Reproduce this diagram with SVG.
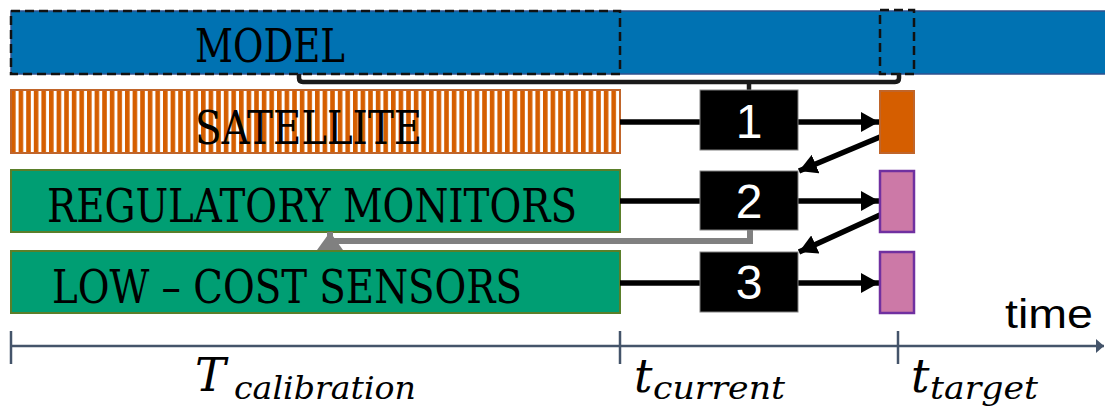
<svg xmlns="http://www.w3.org/2000/svg" width="1105" height="408" viewBox="0 0 1105 408">
  <style>
    .lbl { font-family: "DejaVu Serif", "Liberation Serif", serif; font-stretch: condensed; font-size: 46px; fill: #000; }
    .num { font-family: "Liberation Sans", Arial, sans-serif; font-size: 48px; fill: #fff; text-anchor: middle; }
    .math { font-family: "DejaVu Serif", "Liberation Serif", serif; font-style: italic; fill: #000; }
    .proc { fill: #000; stroke: #808080; stroke-width: 1; }
    .conn { stroke: #000; stroke-width: 5.5; fill: none; }
    .tick { stroke: #44546A; stroke-width: 2.5; }
  </style>
  <defs>
    <pattern id="stripes" x="11" y="0" width="7.6" height="10" patternUnits="userSpaceOnUse">
      <rect x="0" y="0" width="7.6" height="10" fill="#fff"/>
      <rect x="0" y="0" width="4.6" height="10" fill="#D55E00"/>
    </pattern>
    <marker id="ah" markerUnits="userSpaceOnUse" markerWidth="19" markerHeight="20" refX="18" refY="10" orient="auto">
      <path d="M0,0 L18,10 L0,20 z" fill="#000"/>
    </marker>
    <marker id="ahg" markerUnits="userSpaceOnUse" markerWidth="19" markerHeight="26" refX="18" refY="13" orient="auto">
      <path d="M0,0 L18,13 L0,26 z" fill="#808080"/>
    </marker>
    <marker id="aha" markerUnits="userSpaceOnUse" markerWidth="9" markerHeight="14" refX="8" refY="7" orient="auto">
      <path d="M0,0 L8,7 L0,14 z" fill="#44546A"/>
    </marker>
  </defs>

  <g id="model">
    <rect x="11" y="11" width="1096" height="63" fill="#0072B2" stroke="#2F528F" stroke-width="1.5"/>
    <rect x="11" y="11" width="609" height="63" fill="none" stroke="#111" stroke-width="2.5" stroke-dasharray="9 5"/>
    <rect x="880" y="10" width="34" height="64" fill="none" stroke="#111" stroke-width="2.5" stroke-dasharray="9 5"/>
    <text class="lbl" x="195" y="62" textLength="150" lengthAdjust="spacingAndGlyphs">MODEL</text>
  </g>

  <g id="satellite">
    <rect x="11" y="90" width="609" height="63" fill="url(#stripes)" stroke="#C0652A" stroke-width="2"/>
    <text class="lbl" x="195" y="144" textLength="227" lengthAdjust="spacingAndGlyphs">SATELLITE</text>
  </g>

  <g id="regulatory">
    <rect x="11" y="170" width="609" height="62" fill="#009E73" stroke="#5A7F2A" stroke-width="2"/>
    <text class="lbl" x="47" y="222" textLength="530" lengthAdjust="spacingAndGlyphs">REGULATORY MONITORS</text>
  </g>

  <g id="lowcost">
    <rect x="11" y="251" width="609" height="62" fill="#009E73" stroke="#5A7F2A" stroke-width="2"/>
    <text class="lbl" x="52" y="303" textLength="470" lengthAdjust="spacingAndGlyphs">LOW – COST SENSORS</text>
  </g>

  <g id="connectors">
    <path d="M299,74 V78 Q299,82 303,82 H895 Q899,82 899,78 V73" stroke="#1a1a1a" stroke-width="4.5" fill="none"/>
    <line x1="749" y1="82" x2="749" y2="90" stroke="#1a1a1a" stroke-width="4.5"/>
    <line class="conn" x1="620" y1="122" x2="700" y2="122"/>
    <line class="conn" x1="798" y1="122" x2="879" y2="122" marker-end="url(#ah)"/>
    <line class="conn" x1="620" y1="201" x2="700" y2="201"/>
    <line class="conn" x1="798" y1="201" x2="879" y2="201" marker-end="url(#ah)"/>
    <line class="conn" x1="620" y1="283" x2="700" y2="283"/>
    <line class="conn" x1="798" y1="283" x2="879" y2="283" marker-end="url(#ah)"/>
    <line class="conn" x1="880" y1="137" x2="799" y2="171" marker-end="url(#ah)"/>
    <line class="conn" x1="880" y1="215" x2="799" y2="252" marker-end="url(#ah)"/>
    <path d="M750,230 V241 H330 V232" stroke="#808080" stroke-width="6" fill="none" marker-end="url(#ahg)"/>
  </g>

  <g id="step1">
    <rect class="proc" x="700" y="90" width="98" height="60"/>
    <text class="num" x="749" y="138">1</text>
  </g>
  <g id="step2">
    <rect class="proc" x="700" y="171" width="98" height="59"/>
    <text class="num" x="749" y="218">2</text>
  </g>
  <g id="step3">
    <rect class="proc" x="700" y="252" width="98" height="60"/>
    <text class="num" x="749" y="299">3</text>
  </g>

  <g id="target-sat">
    <rect x="880" y="91" width="34" height="62" fill="#D55E00" stroke="#C0652A" stroke-width="2"/>
  </g>
  <g id="target-reg">
    <rect x="880" y="171" width="34" height="61" fill="#CC79A7" stroke="#7030A0" stroke-width="2.5"/>
  </g>
  <g id="target-low">
    <rect x="880" y="252" width="34" height="61" fill="#CC79A7" stroke="#7030A0" stroke-width="2.5"/>
  </g>

  <g id="timeline">
    <line x1="11" y1="346" x2="1104" y2="346" stroke="#44546A" stroke-width="2.5" marker-end="url(#aha)"/>
    <line class="tick" x1="11" y1="331" x2="11" y2="364"/>
    <line class="tick" x1="620" y1="331" x2="620" y2="364"/>
    <line class="tick" x1="898" y1="331" x2="898" y2="364"/>
    <text x="1005" y="328" font-family="Liberation Sans, Arial, sans-serif" font-size="40" textLength="88" lengthAdjust="spacingAndGlyphs">time</text>
    <text class="math" x="195" y="391" font-size="46">T</text>
    <text class="math" x="234" y="399" font-size="32" textLength="182" lengthAdjust="spacingAndGlyphs">calibration</text>
    <text class="math" x="634" y="392" font-size="46">t</text>
    <text class="math" x="653" y="399" font-size="32" textLength="132" lengthAdjust="spacingAndGlyphs">current</text>
    <text class="math" x="911" y="392" font-size="46">t</text>
    <text class="math" x="930" y="399" font-size="32" textLength="108" lengthAdjust="spacingAndGlyphs">target</text>
  </g>
</svg>
